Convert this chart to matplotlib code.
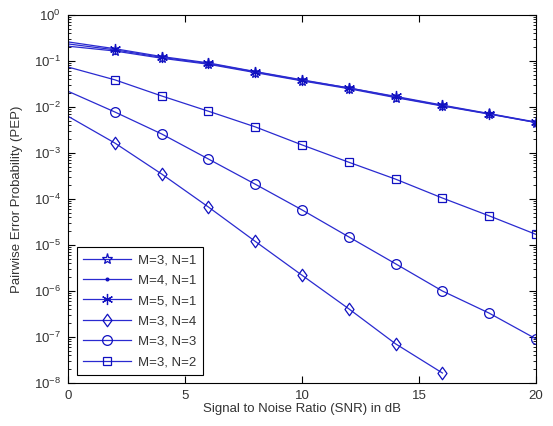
import matplotlib
matplotlib.use("Agg")
import matplotlib.pyplot as plt
from matplotlib.path import Path
from matplotlib.ticker import NullFormatter
import numpy as np

snr = [0, 2, 4, 6, 8, 10, 12, 14, 16, 18, 20]
pep_m3_n1 = [0.21, 0.165, 0.115, 0.085, 0.056, 0.037, 0.025, 0.016, 0.0105, 0.0070, 0.0046]
pep_m4_n1 = [0.235, 0.175, 0.12, 0.088, 0.058, 0.038, 0.026, 0.0165, 0.0107, 0.0071, 0.0046]
pep_m5_n1 = [0.26, 0.185, 0.125, 0.091, 0.059, 0.039, 0.026, 0.017, 0.011, 0.0072, 0.0047]
snr_n4 = [0, 2, 4, 6, 8, 10, 12, 14, 16]
pep_m3_n4 = [0.0063, 1.65e-3, 3.5e-4, 6.7e-5, 1.2e-5, 2.2e-6, 4.1e-7, 7.1e-8, 1.65e-8]
pep_m3_n3 = [0.022, 0.0078, 0.0026, 7.4e-4, 2.1e-4, 5.8e-5, 1.5e-5, 3.9e-6, 1.0e-6, 3.3e-7, 9.1e-8]
pep_m3_n2 = [0.074, 0.039, 0.0174, 0.0081, 0.0037, 0.0015, 6.3e-4, 2.7e-4, 1.05e-4, 4.3e-5, 1.7e-5]
labels = ["M=3, N=1", "M=4, N=1", "M=5, N=1", "M=3, N=4", "M=3, N=3", "M=3, N=2"]

plt.rcParams['font.family'] = ['Liberation Sans', 'DejaVu Sans']
fig = plt.figure(figsize=(5.53, 4.26), dpi=100)
ax = fig.add_axes([68/553, (426-383)/426, (536-68)/553, (383-15)/426])

diamond = Path([(0, 1), (0.72, 0), (0, -1), (-0.72, 0), (0, 1)],
               [Path.MOVETO, Path.LINETO, Path.LINETO, Path.LINETO, Path.CLOSEPOLY])

lc = '#2a2ad0'
mc = '#1010c0'
common = dict(color=lc, lw=0.9, markeredgecolor=mc, markerfacecolor='none',
              markevery=slice(1, None), markeredgewidth=0.9)
ax.semilogy(snr, pep_m3_n1, marker='*', ms=8, label=labels[0], **common)
ax.semilogy(snr, pep_m4_n1, marker='.', ms=4, label=labels[1],
            **{**common, 'markerfacecolor': mc})
ax.semilogy(snr, pep_m5_n1, marker=(6, 2, 0), ms=8, label=labels[2], **common)
ax.semilogy(snr_n4, pep_m3_n4, marker=diamond, ms=9, label=labels[3], **common)
ax.semilogy(snr, pep_m3_n3, marker='o', ms=7, label=labels[4], **common)
ax.semilogy(snr, pep_m3_n2, marker='s', ms=5.5, label=labels[5], **common)

ax.set_xlim(0, 20)
ax.set_ylim(1e-8, 1)
ax.set_xticks([0, 5, 10, 15, 20])
ax.yaxis.set_minor_formatter(NullFormatter())
ax.tick_params(which='both', direction='in', top=True, right=True, labelsize=9.5,
               labelcolor='#333333', pad=5)
ax.tick_params(which='major', length=5)
ax.tick_params(which='minor', length=2.5)
for s in ax.spines.values():
    s.set_linewidth(0.8)
ax.set_xlabel("Signal to Noise Ratio (SNR) in dB", fontsize=9.5, labelpad=1, color='#333333')
ax.set_ylabel("Pairwise Error Probability (PEP)", fontsize=9.5, labelpad=8, color='#333333')

leg = ax.legend(loc='lower left', bbox_to_anchor=(0.019, 0.022), fontsize=9.5,
                frameon=True, fancybox=False, edgecolor='black', framealpha=1,
                handlelength=3.6, handletextpad=0.5, borderpad=0.5, labelspacing=0.62,
                borderaxespad=0)
leg.get_frame().set_linewidth(0.8)
for t in leg.get_texts():
    t.set_color('#333333')

fig.savefig("out.png", dpi=100)
